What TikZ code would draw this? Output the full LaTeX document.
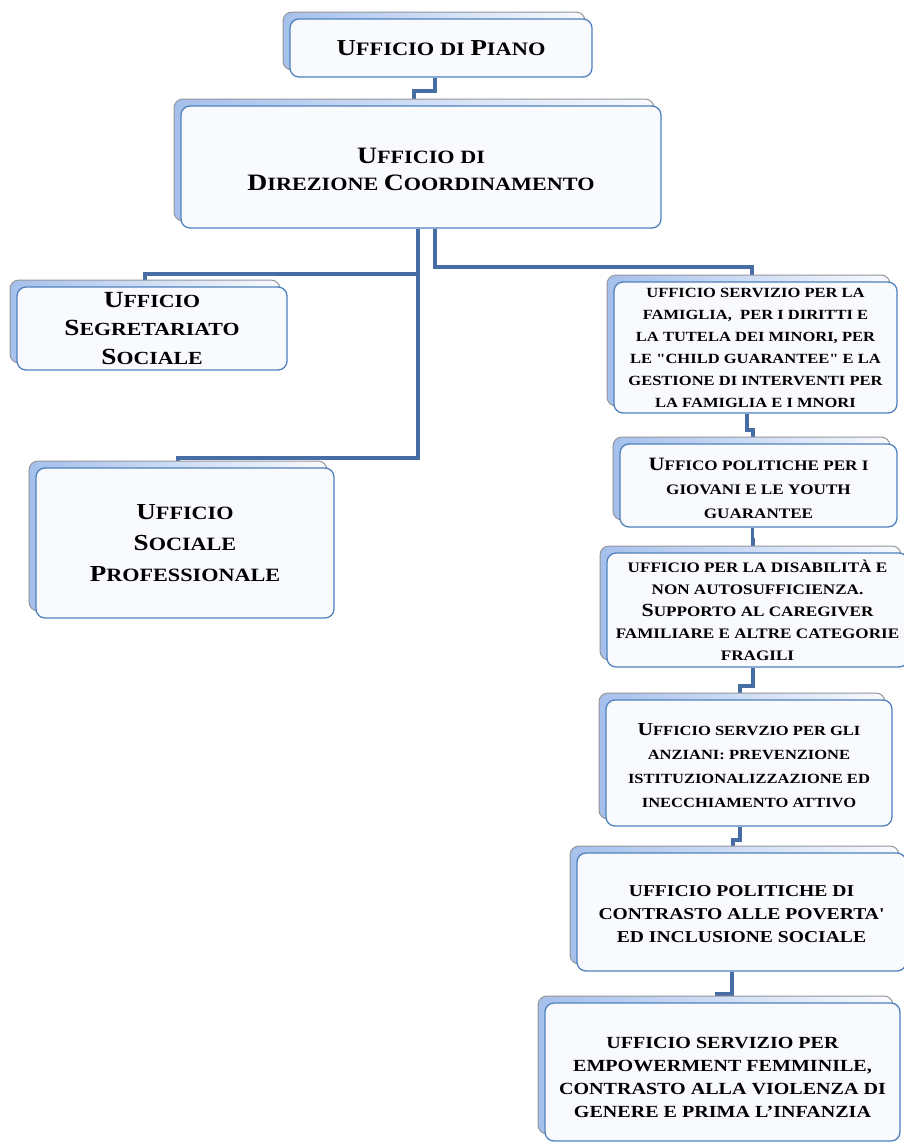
\documentclass[tikz,border=0pt]{standalone}
\usepackage{fontspec}
\newfontfamily\tf{Liberation Serif}[FakeStretch=1.18]
\usetikzlibrary{shadows,calc}
\pgfdeclarelayer{background}
\pgfsetlayers{background,main}
\definecolor{connc}{RGB}{70,110,165}
\definecolor{edgec}{RGB}{79,129,189}
\definecolor{frontfill}{RGB}{248,250,254}
\definecolor{backedge}{RGB}{150,150,155}
\definecolor{backblue}{RGB}{165,192,236}
\newcommand\BL[2][1.25]{\scalebox{#1}{#2}}
\begin{document}
\begin{tikzpicture}[x=1pt,y=-1pt,
  box/.style={draw=edgec, line width=1.3pt, fill=frontfill, rounded corners=9pt,
    inner sep=0pt, align=center, text=black,
    general shadow={shadow xshift=-7pt, shadow yshift=7pt, draw=backedge,
      line width=1pt, left color=backblue, right color=white!92!backblue}},
  sz/.style 2 args={font=\tf\bfseries\fontsize{#1}{#2}\selectfont},
  conn/.style={draw=connc, line width=3.8pt}]
\useasboundingbox (0,0) rectangle (904,1144);

\node[box, sz={19}{23}, minimum width=302pt, minimum height=58pt] (piano) at (441,48)
  {\BL[1.2]{U}FFICIO DI \BL[1.2]{P}IANO};
\node[box, sz={18.8}{27}, minimum width=480pt, minimum height=122pt] (dir) at (421,167)
  {\rule{0pt}{21pt}\BL{U}FFICIO DI\\\BL{D}IREZIONE \BL{C}OORDINAMENTO};
\node[box, sz={18.5}{28.5}, minimum width=270pt, minimum height=83pt] (seg) at (152,328.5)
  {\BL{U}FFICIO\\\BL{S}EGRETARIATO\\\BL{S}OCIALE};
\node[box, sz={18.8}{31}, minimum width=298pt, minimum height=150pt] (prof) at (185,543)
  {\BL[1.22]{U}FFICIO\\\BL[1.22]{S}OCIALE\\\BL[1.22]{P}ROFESSIONALE};
\node[box, sz={14}{22}, minimum width=283pt, minimum height=131pt] (fam) at (755.5,347.5)
  {UFFICIO SERVIZIO PER LA\\FAMIGLIA,\ \ PER I DIRITTI E\\LA TUTELA DEI MINORI, PER\\LE "CHILD GUARANTEE" E LA\\GESTIONE DI INTERVENTI PER\\LA FAMIGLIA E I MNORI};
\node[box, sz={14.5}{24}, minimum width=277pt, minimum height=83pt] (gio) at (758.5,485.5)
  {\rule{0pt}{18pt}\BL[1.3]{U}FFICO POLITICHE PER I\\GIOVANI E LE YOUTH\\GUARANTEE};
\node[box, sz={14.5}{22}, minimum width=301pt, minimum height=114pt] (dis) at (757.5,610)
  {UFFICIO PER LA DISABILITÀ E\\NON AUTOSUFFICIENZA.\\\BL[1.28]{S}UPPORTO AL CAREGIVER\\FAMILIARE E ALTRE CATEGORIE\\FRAGILI};
\node[box, sz={14}{24}, minimum width=286pt, minimum height=126pt] (anz) at (749,763)
  {\rule{0pt}{18pt}\BL[1.3]{U}FFICIO SERVZIO PER GLI\\ANZIANI: PREVENZIONE\\ISTITUZIONALIZZAZIONE ED\\INECCHIAMENTO ATTIVO};
\node[box, sz={16.6}{23}, minimum width=329pt, minimum height=118pt] (pov) at (741.5,912)
  {\rule{0pt}{16pt}UFFICIO POLITICHE DI\\CONTRASTO ALLE POVERTA'\\ED INCLUSIONE SOCIALE};
\node[box, sz={17}{23}, minimum width=355pt, minimum height=138pt] (emp) at (722.5,1072)
  {\rule{0pt}{22pt}UFFICIO SERVIZIO PER\\EMPOWERMENT FEMMINILE,\\CONTRASTO ALLA VIOLENZA DI\\GENERE E PRIMA L’INFANZIA};

\begin{pgfonlayer}{background}
\fill[white] (0,0) rectangle (904,1144);
\draw[conn] ([xshift=-6pt]piano.south) -- ++(0,13) -| ([xshift=-7pt]dir.north);
\draw[conn] ([xshift=-3pt]dir.south) |- ([xshift=-7pt,yshift=9pt]prof.north) -- ([xshift=-7pt]prof.north);
\draw[conn] ([xshift=-3pt]dir.south) ++(0,45) -| ([xshift=-7pt]seg.north);
\draw[conn] ([xshift=14pt]dir.south) |- ([xshift=-3.5pt,yshift=14pt]fam.north) -- ([xshift=-3.5pt]fam.north);
\draw[conn] ([xshift=-8.5pt]fam.south) -- ++(0,16) -| ([xshift=-5.5pt]gio.north);
\draw[conn] ([xshift=-6pt]gio.south) -- ++(0,12) -| ([xshift=-4.5pt]dis.north);
\draw[conn] ([xshift=-4.5pt]dis.south) -- ++(0,18) -| ([xshift=-9pt]anz.north);
\draw[conn] ([xshift=-9pt]anz.south) -- ++(0,13) -| ([xshift=-8.5pt]pov.north);
\draw[conn] ([xshift=-9.5pt]pov.south) -- ++(0,22) -| ([xshift=-5.5pt]emp.north);
\end{pgfonlayer}
\end{tikzpicture}
\end{document}
